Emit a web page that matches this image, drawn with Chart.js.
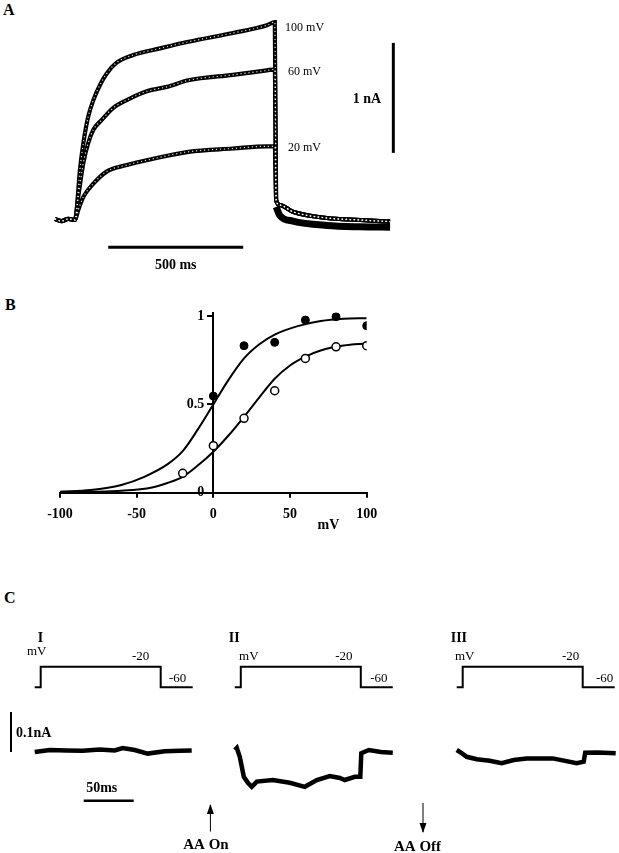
<!DOCTYPE html>
<html>
<head>
<meta charset="utf-8">
<script src="https://cdn.jsdelivr.net/npm/chart.js@4.4.0/dist/chart.umd.min.js"></script>
<style>
    body { margin: 0; background: #fff; width: 619px; height: 853px; position: relative; overflow: hidden; }
    canvas { position: absolute; }
    .panel { position: absolute; font: bold 16px "Liberation Serif", serif; line-height: 16px; }
</style>
</head>
<body>
<div class="panel" style="left:3px;top:2px">A</div>
<div class="panel" style="left:5px;top:297px">B</div>
<div class="panel" style="left:4px;top:590px">C</div>
<canvas id="chartA" width="440" height="280" style="left:0;top:0"></canvas>
<canvas id="chartB" width="400" height="255" style="left:0;top:285px"></canvas>
<canvas id="chartC1" width="200" height="228" style="left:0;top:625px"></canvas>
<canvas id="chartC3" width="189" height="228" style="left:430px;top:625px"></canvas>
<canvas id="chartC2" width="320" height="228" style="left:150px;top:625px"></canvas>
<script>
// ---- Panel A: currents (nA) vs time (ms from step onset) ----
const baseT = [-74, -50, -25, 0];
const baseI = [0.01, -0.01, 0.01, 0];
const trace100T = [6, 18, 31, 49, 68, 93, 117, 154, 216, 315, 420, 585, 711, 740];
const trace100I = [0.09, 0.45, 0.70, 0.94, 1.09, 1.23, 1.33, 1.43, 1.50, 1.56, 1.62, 1.70, 1.77, 1.80];
const trace60T = [12, 31, 49, 68, 99, 142, 192, 266, 340, 420, 585, 711, 740];
const trace60I = [0.21, 0.52, 0.70, 0.82, 0.91, 1.02, 1.09, 1.17, 1.21, 1.27, 1.32, 1.36, 1.37];
const trace20T = [12, 31, 68, 117, 192, 278, 420, 585, 711, 740];
const trace20I = [0.09, 0.21, 0.33, 0.44, 0.50, 0.55, 0.62, 0.65, 0.67, 0.67];
const tailT = [745, 759, 807, 933, 1056, 1167];
const tailI = [0.18, 0.136, 0.075, 0.018, 0, -0.015];
const tailBlackI = [0.12, 0.04, -0.01, -0.05, -0.062, -0.065];

// ---- Panel B: normalised conductance vs mV ----
const voltsFilled = [0, 20, 40, 60, 80, 100];
const gFilled = [0.547, 0.832, 0.851, 0.977, 0.996, 0.945];
const voltsOpen = [-20, 0, 20, 40, 60, 80, 100];
const gOpen = [0.11, 0.266, 0.421, 0.577, 0.76, 0.826, 0.832];
const fitFilledV = [-100, -80, -60, -45, -30, -20, -10, 0, 10, 20, 30, 40, 55, 70, 85, 100];
const fitFilledG = [0.006, 0.015, 0.044, 0.09, 0.16, 0.235, 0.36, 0.5, 0.64, 0.76, 0.84, 0.895, 0.943, 0.972, 0.985, 0.988];
const fitOpenV = [-100, -80, -60, -40, -30, -20, -10, 0, 10, 20, 30, 40, 50, 60, 70, 85, 100];
const fitOpenG = [0.002, 0.005, 0.011, 0.03, 0.055, 0.09, 0.155, 0.232, 0.325, 0.43, 0.54, 0.645, 0.72, 0.77, 0.805, 0.833, 0.845];
const yTicksB = [0, 0.5, 1];

// ---- Panel C: voltage protocol and currents ----
const stepT = [-6, 0, 0, 120, 120, 152];
const stepMV = [-60, -60, -20, -20, -60, -60];
const sweepIT = [-6, 9, 26, 42, 59, 74, 82, 94, 107, 124, 139, 151];
const sweepII = [0, 0.005, 0.004, 0.003, 0.006, 0.004, 0.01, 0.005, -0.004, 0.002, 0.003, 0.004];
const sweepIIT = [-6, -4, -1, 1, 3, 7.5, 11, 16, 32, 49, 64, 76, 89, 99, 104, 114, 119.5, 120.5, 128, 140, 152];
const sweepIII_I = [0.005, 0.01, -0.012, -0.037, -0.062, -0.078, -0.087, -0.074, -0.07, -0.077, -0.087, -0.07, -0.06, -0.065, -0.07, -0.062, -0.062, -0.003, 0.005, 0, -0.002];
const sweepIIIT = [-6, -1, 4, 14, 27, 39, 51, 64, 90, 114, 121, 122.5, 135, 153];
const sweepIIII = [0.005, -0.003, -0.012, -0.018, -0.022, -0.028, -0.02, -0.016, -0.016, -0.028, -0.024, -0.002, -0.001, -0.003];

Chart.defaults.font.family = '"Liberation Serif", serif';
Chart.defaults.color = '#000';

const pts = (xs, ys) => xs.map((x, k) => ({ x: x, y: ys[k] }));
const SERIF = '"Liberation Serif", serif';

// scale bars, arrows and free text placed in data units
const annotate = {
    id: 'annotate',
    afterDraw(chart, args, o) {
        const ctx = chart.ctx;
        const sx = chart.scales.x;
        const P = (x, y, ax) => [sx.getPixelForValue(x), chart.scales[ax || 'y'].getPixelForValue(y)];
        ctx.save();
        ctx.fillStyle = '#000';
        ctx.strokeStyle = '#000';
        (o.bars || []).forEach(b => {
            const [x1, y1] = P(b.x1, b.y1, b.ax);
            const [x2, y2] = P(b.x2, b.y2, b.ax);
            ctx.lineWidth = b.w || 2;
            ctx.beginPath();
            ctx.moveTo(x1, y1);
            ctx.lineTo(x2, y2);
            ctx.stroke();
            if (b.head) {
                const d = Math.sign(y2 - y1);
                ctx.beginPath();
                ctx.moveTo(x2, y2 + d);
                ctx.lineTo(x2 - 3.5, y2 - d * 9);
                ctx.lineTo(x2 + 3.5, y2 - d * 9);
                ctx.closePath();
                ctx.fill();
            }
        });
        (o.texts || []).forEach(t => {
            const [x, y] = P(t.x, t.y, t.ax);
            ctx.font = t.font;
            ctx.textAlign = t.align || 'center';
            ctx.textBaseline = 'middle';
            ctx.fillText(t.text, x, y);
        });
        ctx.restore();
    }
};

const noChrome = { legend: { display: false }, tooltip: { enabled: false } };

// Panel A
function traceSets(t, i) {
    const data = pts(baseT, baseI).concat(pts(t, i), pts(tailT, tailI));
    const common = { data: data, pointRadius: 0, cubicInterpolationMode: 'monotone', fill: false };
    return [
        Object.assign({ borderColor: 'rgba(255,255,255,0.85)', borderWidth: 1.2, borderDash: [1.2, 2.8], order: 0 }, common),
        Object.assign({ borderColor: '#000', borderWidth: 4.2, order: 2 }, common)
    ];
}

new Chart(document.getElementById('chartA'), {
    type: 'line',
    data: {
        datasets: [
            ...traceSets(trace100T, trace100I),
            ...traceSets(trace60T, trace60I),
            ...traceSets(trace20T, trace20I),
            { data: pts(tailT, tailBlackI), borderColor: '#000', borderWidth: 7, pointRadius: 0, cubicInterpolationMode: 'monotone', order: 1 }
        ]
    },
    options: {
        responsive: false,
        animation: false,
        plugins: Object.assign({
            annotate: {
                bars: [
                    { x1: 1179, y1: 0.61, x2: 1179, y2: 1.61, w: 3 },
                    { x1: 123, y1: -0.248, x2: 623, y2: -0.248, w: 3 }
                ],
                texts: [
                    { x: 778, y: trace100I[trace100I.length - 1] - 0.05, text: '100 mV', font: '12px ' + SERIF, align: 'left' },
                    { x: 789, y: trace60I[trace60I.length - 1] - 0.02, text: '60 mV', font: '12px ' + SERIF, align: 'left' },
                    { x: 789, y: trace20I[trace20I.length - 1] - 0.01, text: '20 mV', font: '12px ' + SERIF, align: 'left' },
                    { x: 1081, y: 1.1, text: '1 nA', font: 'bold 14px ' + SERIF },
                    { x: 373, y: -0.41, text: '500 ms', font: 'bold 14px ' + SERIF }
                ]
            }
        }, noChrome),
        scales: {
            x: { type: 'linear', min: -277.8, max: 1351.85, display: false },
            y: { type: 'linear', min: -0.5455, max: 2.0, display: false }
        }
    },
    plugins: [annotate]
});

// Panel B
const yLabelsB = {
    id: 'yLabelsB',
    afterDraw(chart) {
        const { ctx, scales: { x, y } } = chart;
        ctx.save();
        ctx.fillStyle = '#000';
        ctx.font = 'bold 14px ' + SERIF;
        ctx.textAlign = 'right';
        ctx.textBaseline = 'middle';
        yTicksB.forEach(v => ctx.fillText(String(v), x.getPixelForValue(0) - 9, y.getPixelForValue(v)));
        ctx.textAlign = 'center';
        ctx.fillText('mV', x.getPixelForValue(75), y.getPixelForValue(-0.187));
        ctx.restore();
    }
};

new Chart(document.getElementById('chartB'), {
    type: 'line',
    data: {
        datasets: [
            { data: pts(voltsFilled, gFilled), showLine: false, pointRadius: 4, pointBackgroundColor: '#000', pointBorderColor: '#000', pointBorderWidth: 1, order: 0 },
            { data: pts(voltsOpen, gOpen), showLine: false, pointRadius: 4, pointBackgroundColor: '#fff', pointBorderColor: '#000', pointBorderWidth: 1.5, order: 0 },
            { data: pts(fitFilledV, fitFilledG), borderColor: '#000', borderWidth: 2, pointRadius: 0, cubicInterpolationMode: 'monotone', order: 1 },
            { data: pts(fitOpenV, fitOpenG), borderColor: '#000', borderWidth: 2, pointRadius: 0, cubicInterpolationMode: 'monotone', order: 1 }
        ]
    },
    options: {
        responsive: false,
        animation: false,
        layout: { padding: { left: 60, right: 33.3, top: 27.5, bottom: 17.3 } },
        plugins: noChrome,
        scales: {
            x: {
                type: 'linear', position: 'bottom', min: -100, max: 100,
                afterFit: s => { s.height = 30; },
                ticks: { stepSize: 50, padding: 8, color: '#000', font: { size: 14, weight: 'bold' } },
                grid: { drawOnChartArea: false, drawTicks: true, tickLength: 5, color: '#000', lineWidth: 2 },
                border: { color: '#000', width: 2 }
            },
            y: {
                type: 'linear', position: { x: 0 }, min: 0, max: 1.02,
                afterFit: s => { s.width = 0; },
                ticks: { stepSize: 0.5, includeBounds: false, display: false },
                grid: { drawOnChartArea: false, drawTicks: true, tickLength: 5, color: '#000', lineWidth: 2 },
                border: { color: '#000', width: 2 }
            }
        }
    },
    plugins: [yLabelsB]
});

// Panel C
function sweepChart(id, xmin, xmax, t, cur, extra) {
    const small = '13px ' + SERIF;
    const texts = [
        { x: extra.roman[1], y: 35, ax: 'yV', text: extra.roman[0], font: 'bold 14px ' + SERIF, align: 'left' },
        { x: extra.mv[0], y: extra.mv[1], ax: 'yV', text: 'mV', font: small },
        { x: extra.m20, y: -0.6, ax: 'yV', text: '-20', font: small },
        { x: extra.m60, y: -44, ax: 'yV', text: '-60', font: small }
    ].concat(extra.texts || []);
    return new Chart(document.getElementById(id), {
        type: 'line',
        data: {
            datasets: [
                { data: pts(stepT, stepMV), yAxisID: 'yV', borderColor: '#000', borderWidth: 2, pointRadius: 0, tension: 0 },
                { data: pts(t, cur), yAxisID: 'yI', borderColor: '#000', borderWidth: 4.5, pointRadius: 0, tension: 0 }
            ]
        },
        options: {
            responsive: false,
            animation: false,
            plugins: Object.assign({ annotate: { bars: extra.bars || [], texts: texts } }, noChrome),
            scales: {
                x: { type: 'linear', min: xmin, max: xmax, display: false },
                yV: { type: 'linear', min: -381.7, max: 61.0, display: false },
                yI: { type: 'linear', min: -0.2525, max: 0.3175, display: false }
            }
        },
        plugins: [annotate]
    });
}

sweepChart('chartC1', -40.7, 159.3, sweepIT, sweepII, {
    roman: ['I', -3], mv: [-4, 9], m20: 100, m60: 137,
    bars: [
        { x1: -29.7, y1: 0, x2: -29.7, y2: 0.1, ax: 'yI', w: 2 },
        { x1: 43, y1: -0.1218, x2: 93, y2: -0.1218, ax: 'yI', w: 2.5 }
    ],
    texts: [
        { x: -24.7, y: 0.047, ax: 'yI', text: '0.1nA', font: 'bold 14px ' + SERIF, align: 'left' },
        { x: 61, y: -0.09, ax: 'yI', text: '50ms', font: 'bold 14px ' + SERIF }
    ]
});

sweepChart('chartC2', -90.8, 229.2, sweepIIT, sweepIII_I, {
    roman: ['II', -12], mv: [8, -1.2], m20: 103, m60: 138,
    bars: [
        { x1: -30.4, y1: -0.199, x2: -30.4, y2: -0.1325, ax: 'yI', w: 1, head: true },
        { x1: 182.2, y1: -0.1275, x2: 182.2, y2: -0.2, ax: 'yI', w: 1, head: true }
    ],
    texts: [
        { x: -34.8, y: -0.2325, ax: 'yI', text: 'AA On', font: 'bold 15px ' + SERIF },
        { x: 176.7, y: -0.237, ax: 'yI', text: 'AA Off', font: 'bold 15px ' + SERIF }
    ]
});

sweepChart('chartC3', -32.7, 156.3, sweepIIIT, sweepIIII, {
    roman: ['III', -12], mv: [2, -1.2], m20: 108, m60: 142
});
</script>
</body>
</html>
